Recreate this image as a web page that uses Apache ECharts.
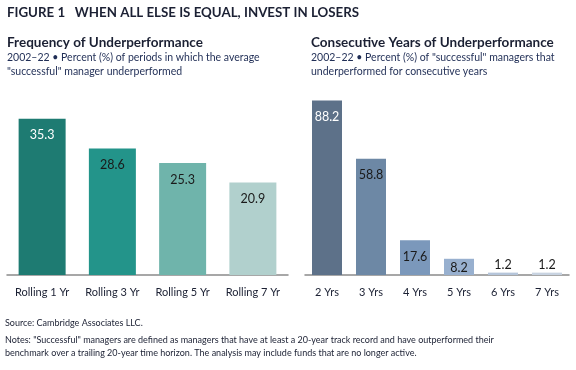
<!DOCTYPE html>
<html>
<head>
<meta charset="utf-8">
<script src="https://cdn.jsdelivr.net/npm/echarts@6/dist/echarts.min.js"></script>
<style>
html,body{margin:0;padding:0;background:#fff;}
#c{width:576px;height:370px;}
</style>
</head>
<body>
<div id="c"></div>
<script>
const leftCategories = ['Rolling 1 Yr', 'Rolling 3 Yr', 'Rolling 5 Yr', 'Rolling 7 Yr'];
const leftValues = [35.3, 28.6, 25.3, 20.9];
const leftColors = ['#1e7b72', '#23948a', '#6fb4ab', '#b1d0cd'];
const rightCategories = ['2 Yrs', '3 Yrs', '4 Yrs', '5 Yrs', '6 Yrs', '7 Yrs'];
const rightValues = [88.2, 58.8, 17.6, 8.2, 1.2, 1.2];
const rightColors = ['#5d7189', '#6d88a5', '#7b98bb', '#98b0cf', '#b5c5da', '#c8d3e1'];

const FONT = 'Lato';
const DARK = '#1b2033';
const NAVY = '#1f2d55';

const chart = echarts.init(document.getElementById('c'), null, {renderer: 'canvas'});

function barData(vals, colors) {
  return vals.map((v, i) => {
    let position = 'insideTop', distance = 10;
    if (v < 5) { position = 'top'; distance = 1; }
    else if (v < 12) { distance = 3; }
    return {
      value: v,
      itemStyle: {color: colors[i]},
      label: {
        show: true,
        position: position,
        distance: distance,
        color: i === 0 ? '#ffffff' : '#1a1a1a',
        fontSize: 12.5,
        fontFamily: FONT,
        formatter: (p) => p.value.toFixed(1)
      }
    };
  });
}

const textEls = [
  {type: 'text', left: 7, top: 6, style: {text: 'FIGURE 1   WHEN ALL ELSE IS EQUAL, INVEST IN LOSERS', font: 'bold 13.3px ' + FONT, fill: DARK}},
  {type: 'text', left: 7, top: 36, style: {text: 'Frequency of Underperformance', font: 'bold 13.5px ' + FONT, fill: DARK}},
  {type: 'text', left: 7, top: 51, style: {text: '2002–22 • Percent (%) of periods in which the average\n"successful" manager underperformed', font: '10.5px ' + FONT, fill: NAVY, lineHeight: 14}},
  {type: 'text', left: 311, top: 36, style: {text: 'Consecutive Years of Underperformance', font: 'bold 13.5px ' + FONT, fill: DARK}},
  {type: 'text', left: 311, top: 51, style: {text: '2002–22 • Percent (%) of "successful" managers that\nunderperformed for consecutive years', font: '10.5px ' + FONT, fill: NAVY, lineHeight: 14}},
  {type: 'text', left: 5, top: 319, style: {text: 'Source: Cambridge Associates LLC.', font: '9px ' + FONT, fill: DARK}},
  {type: 'text', left: 5, top: 334, style: {text: 'Notes: "Successful" managers are defined as managers that have at least a 20-year track record and have outperformed their\nbenchmark over a trailing 20-year time horizon. The analysis may include funds that are no longer active.', font: '9px ' + FONT, fill: DARK, lineHeight: 12.5}}
];

const axisCommon = {
  type: 'category',
  axisTick: {show: false},
  axisLine: {show: true, lineStyle: {color: '#8a8a8a', width: 1.5}},
  axisLabel: {color: DARK, fontSize: 11, fontFamily: FONT, margin: 12, interval: 0}
};

chart.setOption({
  animation: false,
  backgroundColor: '#ffffff',
  graphic: textEls,
  grid: [
    {left: 7, right: 288, top: 98, bottom: 95},
    {left: 305, right: 7, top: 97, bottom: 95}
  ],
  xAxis: [
    Object.assign({gridIndex: 0, data: leftCategories}, axisCommon),
    Object.assign({gridIndex: 1, data: rightCategories}, axisCommon)
  ],
  yAxis: [
    {gridIndex: 0, type: 'value', min: 0, max: 40, show: false, splitLine: {show: false}},
    {gridIndex: 1, type: 'value', min: 0, max: 90, show: false, splitLine: {show: false}}
  ],
  series: [
    {type: 'bar', xAxisIndex: 0, yAxisIndex: 0, barWidth: 47, data: barData(leftValues, leftColors)},
    {type: 'bar', xAxisIndex: 1, yAxisIndex: 1, barWidth: 30, data: barData(rightValues, rightColors)}
  ]
});
</script>
</body>
</html>
